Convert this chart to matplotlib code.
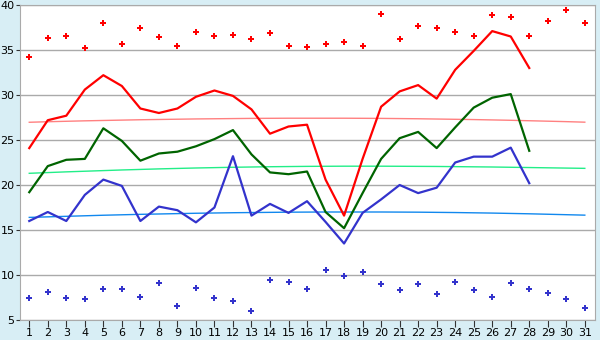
import matplotlib
matplotlib.use("Agg")
import matplotlib.pyplot as plt

# days of the month
days = list(range(1, 32))

# daily max / mean / min (days 1..28)
tmax = [24.1, 27.2, 27.7, 30.6, 32.2, 31.0, 28.5, 28.0, 28.5, 29.8,
        30.5, 29.9, 28.4, 25.7, 26.5, 26.7, 20.6, 16.6, 22.9, 28.7,
        30.4, 31.1, 29.6, 32.8, 34.9, 37.1, 36.5, 33.0]
tmean = [19.2, 22.1, 22.8, 22.9, 26.3, 24.9, 22.7, 23.5, 23.7, 24.3,
         25.1, 26.1, 23.4, 21.4, 21.2, 21.5, 17.0, 15.2, 19.1, 22.9,
         25.2, 25.9, 24.1, 26.4, 28.6, 29.7, 30.1, 23.8]
tmin = [16.0, 17.0, 16.0, 18.9, 20.6, 19.9, 16.0, 17.6, 17.2, 15.85,
        17.5, 23.2, 16.6, 17.9, 16.9, 18.2, 15.9, 13.5, 16.9, 18.4,
        20.0, 19.1, 19.7, 22.5, 23.15, 23.15, 24.15, 20.2]

# record highs / lows (all 31 days)
rec_max = [34.2, 36.3, 36.6, 35.2, 38.0, 35.7, 37.4, 36.4, 35.4, 37.0,
           36.6, 36.7, 36.2, 36.9, 35.4, 35.3, 35.7, 35.9, 35.5, 39.0,
           36.2, 37.7, 37.5, 37.0, 36.6, 38.9, 38.7, 36.6, 38.2, 39.4, 38.0]
rec_min = [7.5, 8.1, 7.5, 7.3, 8.5, 8.4, 7.6, 9.1, 6.6, 8.6,
           7.5, 7.1, 6.0, 9.5, 9.2, 8.4, 10.6, 9.9, 10.3, 9.0,
           8.3, 9.0, 7.85, 9.2, 8.3, 7.6, 9.1, 8.5, 8.0, 7.3, 6.3]

# long-term normals
norm_max = [26.97, 27.03, 27.08, 27.13, 27.17, 27.21, 27.25, 27.28, 27.31, 27.34,
            27.36, 27.38, 27.40, 27.41, 27.42, 27.42, 27.42, 27.42, 27.41, 27.40,
            27.38, 27.36, 27.33, 27.30, 27.27, 27.23, 27.19, 27.14, 27.09, 27.04, 26.98]
norm_mean = [21.30, 21.38, 21.46, 21.53, 21.60, 21.67, 21.73, 21.79, 21.84, 21.89,
             21.93, 21.97, 22.00, 22.03, 22.05, 22.07, 22.08, 22.09, 22.09, 22.09,
             22.08, 22.07, 22.06, 22.04, 22.02, 22.00, 21.97, 21.94, 21.91, 21.88, 21.85]
norm_min = [16.40, 16.46, 16.52, 16.58, 16.64, 16.69, 16.74, 16.78, 16.82, 16.86,
            16.89, 16.92, 16.94, 16.96, 16.98, 16.99, 17.00, 17.00, 17.00, 17.00,
            16.99, 16.98, 16.96, 16.94, 16.91, 16.88, 16.84, 16.80, 16.75, 16.70, 16.65]

bg = "#d8eef5"
grid = "#aaaaaa"

fig = plt.figure(figsize=(6, 3.4), dpi=100, facecolor=bg)
ax = fig.add_axes([20/600, 20/340, 575/600, 315/340])
ax.set_facecolor("white")

ax.plot(days, norm_max, color="#ff8080", lw=1, zorder=2)
ax.plot(days, norm_mean, color="#22ee88", lw=1, zorder=2)
ax.plot(days, norm_min, color="#1188ee", lw=1, zorder=2)

d28 = days[:len(tmax)]
ax.plot(d28, tmax, color="#ff0000", lw=1.6, zorder=3)
ax.plot(d28, tmean, color="#006400", lw=1.6, zorder=3)
ax.plot(d28, tmin, color="#3333cc", lw=1.6, zorder=3)

ax.plot(days, rec_max, ls="none", marker="P", ms=5, color="#ff0000",
        mec="#ff0000", mew=0, zorder=4)
ax.plot(days, rec_min, ls="none", marker="P", ms=5, color="#3333cc",
        mec="#3333cc", mew=0, zorder=4)

ax.set_xlim(0.5, 31.55)
ax.set_ylim(5, 40)
ax.set_yticks(range(5, 41, 5))
ax.set_xticks(days)
ax.yaxis.grid(True, color=grid, lw=1)
ax.set_axisbelow(True)
for s in ax.spines.values():
    s.set_color(grid)
ax.tick_params(axis="y", labelsize=8, color="#333333", length=3, pad=1)
ax.tick_params(axis="x", labelsize=8, color="#333333", length=5, pad=1)

fig.savefig("out.png", dpi=100, facecolor=bg)
